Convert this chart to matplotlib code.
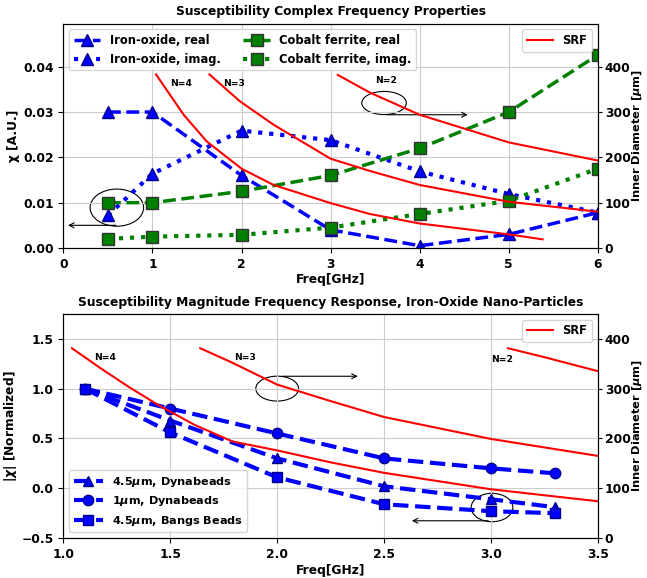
import matplotlib
matplotlib.use('Agg')
import matplotlib.pyplot as plt
from matplotlib.patches import Ellipse

plt.rcParams['font.weight'] = 'bold'
plt.rcParams['axes.labelweight'] = 'bold'
plt.rcParams['axes.titleweight'] = 'bold'
plt.rcParams['font.size'] = 8.8

# top panel: susceptibility vs frequency
freq_top = [0.5, 1, 2, 3, 4, 5, 6]
iron_real = [0.030, 0.030, 0.016, 0.004, 0.0005, 0.003, 0.0078]
iron_imag = [0.0072, 0.0164, 0.0259, 0.0238, 0.0169, 0.0119, 0.0078]
cobalt_real = [0.010, 0.010, 0.0125, 0.016, 0.022, 0.030, 0.0426]
cobalt_imag = [0.002, 0.0025, 0.0029, 0.0045, 0.0075, 0.0104, 0.0175]

# SRF curves (inner diameter in um)
srf4_top_f = [1.04, 1.35, 1.61, 2.0, 2.36, 3.0, 3.44, 4.0, 5.0, 5.38]
srf4_top_d = [383, 294, 235, 175, 139, 99, 75, 54, 30, 19]
srf3_top_f = [1.64, 1.98, 2.36, 3.0, 3.44, 4.0, 5.0, 6.0]
srf3_top_d = [383, 324, 272, 197, 170, 139, 102, 80]
srf2_top_f = [3.08, 3.44, 4.0, 5.0, 6.0]
srf2_top_d = [382, 343, 294, 233, 193]

# bottom panel: normalized magnitude
freq_bot = [1.1, 1.5, 2.0, 2.5, 3.0, 3.3]
dyna45 = [1.0, 0.68, 0.30, 0.02, -0.11, -0.19]
dyna1 = [1.0, 0.80, 0.55, 0.30, 0.20, 0.15]
bangs45 = [1.0, 0.56, 0.11, -0.16, -0.23, -0.25]

srf4_bot_f = [1.04, 1.17, 1.30, 1.44, 1.61, 1.79, 2.0, 2.25, 2.5, 3.0, 3.5]
srf4_bot_d = [381, 342, 305, 268, 228, 194, 176, 152, 131, 98, 74]
srf3_bot_f = [1.64, 1.79, 2.0, 2.25, 2.5, 3.0, 3.5]
srf3_bot_d = [381, 352, 308, 275, 243, 199, 165]
srf2_bot_f = [3.08, 3.26, 3.5]
srf2_bot_d = [381, 362, 335]

fig = plt.figure(figsize=(6.47, 5.78), dpi=100)
ax1 = fig.add_axes([0.098, 0.571, 0.826, 0.388])
ax3 = fig.add_axes([0.098, 0.069, 0.826, 0.388])

# ---- top
ax1.plot(freq_top, iron_real, '--', color='blue', lw=2.5, marker='^', ms=8,
         mec='darkblue', label='Iron-oxide, real')
ax1.plot(freq_top, iron_imag, ':', color='blue', lw=3, marker='^', ms=8,
         mec='darkblue', label='Iron-oxide, imag.')
ax1.plot(freq_top, cobalt_real, '--', color='green', lw=2.5, marker='s', ms=8,
         mec='#333333', label='Cobalt ferrite, real')
ax1.plot(freq_top, cobalt_imag, ':', color='green', lw=3, marker='s', ms=8,
         mec='#333333', label='Cobalt ferrite, imag.')
ax1.set_xlim(0, 6)
ax1.set_ylim(0, 0.0495)
ax1.set_yticks([0, 0.01, 0.02, 0.03, 0.04])
ax1.grid(True, color='#cccccc')
ax1.set_xlabel('Freq[GHz]', labelpad=2)
ax1.set_ylabel('χ [A.U.]', labelpad=2)
ax1.set_title('Susceptibility Complex Frequency Properties', fontsize=8.8)
ax1.legend(loc='upper left', ncol=2, fontsize=8.3, handlelength=2.3)

ax1.add_patch(Ellipse((0.6, 0.0089), 0.6, 0.0082, fill=False, lw=0.8, color='k'))
ax1.annotate('', xy=(0.02, 0.005), xytext=(0.62, 0.005),
             arrowprops=dict(arrowstyle='->', lw=0.8, color='k'))
ax1.add_patch(Ellipse((3.6, 0.032), 0.5, 0.0051, fill=False, lw=0.8, color='k'))
ax1.annotate('', xy=(4.57, 0.0294), xytext=(3.6, 0.0294),
             arrowprops=dict(arrowstyle='->', lw=0.8, color='k'))
ax1.text(1.32, 0.0363, 'N=4', fontsize=6.6, ha='center', va='center')
ax1.text(1.92, 0.0363, 'N=3', fontsize=6.6, ha='center', va='center')
ax1.text(3.62, 0.0369, 'N=2', fontsize=6.6, ha='center', va='center')

ax2 = ax1.twinx()
ax2.plot(srf4_top_f, srf4_top_d, color='red', lw=1.5, label='SRF')
ax2.plot(srf3_top_f, srf3_top_d, color='red', lw=1.5)
ax2.plot(srf2_top_f, srf2_top_d, color='red', lw=1.5)
ax2.set_ylim(0, 495)
ax2.set_yticks([0, 100, 200, 300, 400])
ax2.tick_params(axis='y', length=3, pad=2)
ax2.set_ylabel(r'Inner Diameter [$\mu$m]', labelpad=0, fontsize=8.2)
ax2.legend(loc='upper right', fontsize=8.3, handlelength=2.3)

# ---- bottom
ax3.plot(freq_bot, dyna45, '--', color='blue', lw=3, marker='^', ms=7.5,
         mec='darkblue', label=r'4.5$\mu$m, Dynabeads')
ax3.plot(freq_bot, dyna1, '--', color='blue', lw=3, marker='o', ms=7.5,
         mec='darkblue', label=r'1$\mu$m, Dynabeads')
ax3.plot(freq_bot, bangs45, '--', color='blue', lw=3, marker='s', ms=7.5,
         mec='darkblue', label=r'4.5$\mu$m, Bangs Beads')
ax3.set_xlim(1.0, 3.5)
ax3.set_ylim(-0.5, 1.75)
ax3.set_yticks([-0.5, 0, 0.5, 1.0, 1.5])
ax3.grid(True, color='#cccccc')
ax3.set_xlabel('Freq[GHz]', labelpad=2)
ax3.set_ylabel(r'|$\chi$| [Normalized]', labelpad=2)
ax3.set_title('Susceptibility Magnitude Frequency Response, Iron-Oxide Nano-Particles',
              fontsize=8.8)
ax3.legend(loc='lower left', fontsize=8.1, handlelength=2.6)

ax3.add_patch(Ellipse((2.0, 1.0), 0.2, 0.25, fill=False, lw=0.8, color='k'))
ax3.annotate('', xy=(2.39, 1.124), xytext=(2.01, 1.124),
             arrowprops=dict(arrowstyle='->', lw=0.8, color='k'))
ax3.add_patch(Ellipse((3.005, -0.193), 0.195, 0.285, fill=False, lw=0.8, color='k'))
ax3.annotate('', xy=(2.617, -0.326), xytext=(3.0, -0.326),
             arrowprops=dict(arrowstyle='->', lw=0.8, color='k'))
ax3.text(1.195, 1.31, 'N=4', fontsize=6.6, ha='center', va='center')
ax3.text(1.85, 1.31, 'N=3', fontsize=6.6, ha='center', va='center')
ax3.text(3.05, 1.29, 'N=2', fontsize=6.6, ha='center', va='center')

ax4 = ax3.twinx()
ax4.plot(srf4_bot_f, srf4_bot_d, color='red', lw=1.5, label='SRF')
ax4.plot(srf3_bot_f, srf3_bot_d, color='red', lw=1.5)
ax4.plot(srf2_bot_f, srf2_bot_d, color='red', lw=1.5)
ax4.set_ylim(0, 450)
ax4.set_yticks([0, 100, 200, 300, 400])
ax4.tick_params(axis='y', length=3, pad=2)
ax4.set_ylabel(r'Inner Diameter [$\mu$m]', labelpad=0, fontsize=8.2)
ax4.legend(loc='upper right', fontsize=8.3, handlelength=2.3)

fig.savefig('out.png', dpi=100)
